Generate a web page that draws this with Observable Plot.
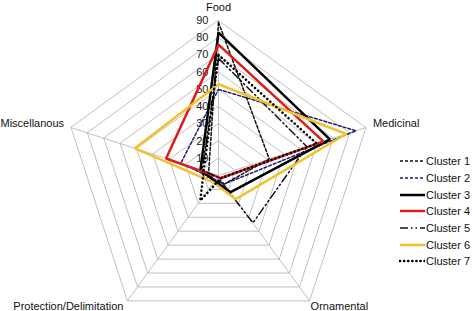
<!DOCTYPE html>
<html><head><meta charset="utf-8">
<script src="https://cdn.jsdelivr.net/npm/d3@7"></script>
<script src="https://cdn.jsdelivr.net/npm/@observablehq/plot@0.6"></script>
<style>
body{margin:0;background:#fff;font-family:"Liberation Sans",Arial,sans-serif;}
#wrap{position:relative;width:472px;height:311px;overflow:hidden;}
#legend{position:absolute;left:399px;top:153px;font-size:11px;color:#111;}
.row{display:flex;align-items:center;height:16.7px;white-space:nowrap;}
.row svg{margin-right:1px;}
</style></head><body>
<div id="wrap"><div id="chart"></div><div id="legend"></div></div>
<script>
// ---- data ----
const axes = ["Food", "Medicinal", "Ornamental", "Protection/Delimitation", "Miscellanous"];
const clusters = ["Cluster 1", "Cluster 2", "Cluster 3", "Cluster 4", "Cluster 5", "Cluster 6", "Cluster 7"];
const cluster1 = [89, 31, 6, 4, 6];
const cluster2 = [50, 84, 6, 3, 23];
const cluster3 = [83, 68, 12, 4, 11];
const cluster4 = [76, 64, 2, 1, 32];
const cluster5 = [68, 54, 34, 1, 10];
const cluster6 = [53, 78, 17, 5, 51];
const cluster7 = [70, 60, 2, 18, 9];
const tickValues = [0, 10, 20, 30, 40, 50, 60, 70, 80, 90];

const seriesValues = [cluster1, cluster2, cluster3, cluster4, cluster5, cluster6, cluster7];

// ---- styles ----
const styles = [
  {stroke: "#111", strokeWidth: 1.5, dash: "3,2"},
  {stroke: "#1c1c7c", strokeWidth: 1.5, dash: "3,2"},
  {stroke: "#000", strokeWidth: 2.5, dash: null},
  {stroke: "#dd1c1c", strokeWidth: 2.5, dash: null},
  {stroke: "#111", strokeWidth: 1.5, dash: "8,3,1.5,3,1.5,3"},
  {stroke: "#f2c22c", strokeWidth: 2.5, dash: null},
  {stroke: "#000", strokeWidth: 2.6, dash: "0.1,4", cap: "round"}
];

// ---- geometry ----
const W = 472, H = 311, CX = 218, CY = 175, R = 155;
const maxV = 90;
const k = R / maxV;
const ang = i => i * 2 * Math.PI / axes.length;
const px = (i, v) => v * Math.sin(ang(i));
const py = (i, v) => v * Math.cos(ang(i));

const rings = [];
tickValues.filter(t => t > 0).forEach(t => axes.forEach((a, i) => rings.push({t, x: px(i, t), y: py(i, t)})));

const spokes = axes.map((a, i) => ({a, i, x: px(i, maxV), y: py(i, maxV)}));

const labelOpts = [
  {textAnchor: "middle", dx: 0, dy: -13},
  {textAnchor: "start", dx: 7, dy: -4},
  {textAnchor: "start", dx: 1, dy: 6},
  {textAnchor: "end", dx: -4, dy: 6},
  {textAnchor: "end", dx: -7, dy: -4}
];

const marks = [
  Plot.line(rings, {x: "x", y: "y", z: "t", curve: "linear-closed", stroke: "#b0b0b0", strokeWidth: 0.8}),
  Plot.link(spokes, {x1: () => 0, y1: () => 0, x2: "x", y2: "y", stroke: "#b0b0b0", strokeWidth: 0.8}),
  Plot.text(tickValues, {x: () => 0, y: d => d, text: d => String(d), textAnchor: "end", dx: -10, fill: "#222", fontSize: 11})
];
spokes.forEach((s, i) => {
  marks.push(Plot.text([s], {x: "x", y: "y", text: "a", fill: "#111", fontSize: 11, ...labelOpts[i]}));
});
seriesValues.forEach((vals, c) => {
  const pts = vals.map((v, i) => ({x: px(i, v), y: py(i, v)}));
  const st = styles[c];
  const o = {x: "x", y: "y", curve: "linear-closed", stroke: st.stroke, strokeWidth: st.strokeWidth, strokeLinejoin: "miter"};
  if (st.dash) o.strokeDasharray = st.dash;
  if (st.cap) o.strokeLinecap = st.cap;
  marks.push(Plot.line(pts, o));
});

const chart = Plot.plot({
  width: W, height: H, margin: 0,
  x: {domain: [-CX / k, (W - CX) / k], axis: null},
  y: {domain: [(CY - H) / k, CY / k], axis: null},
  style: {fontFamily: "'Liberation Sans', Arial, sans-serif", fontSize: "11px", background: "white", overflow: "visible"},
  marks
});
document.getElementById("chart").appendChild(chart);

// ---- legend ----
const legend = document.getElementById("legend");
clusters.forEach((name, c) => {
  const st = styles[c];
  const row = document.createElement("div");
  row.className = "row";
  row.innerHTML = `<svg width="26" height="8"><line x1="1" y1="4" x2="26" y2="4" stroke="${st.stroke}" stroke-width="${st.strokeWidth}" ${st.dash ? `stroke-dasharray="${st.dash}"` : ""} ${st.cap ? `stroke-linecap="${st.cap}"` : ""}/></svg><span>${name}</span>`;
  legend.appendChild(row);
});
</script>
</body></html>
